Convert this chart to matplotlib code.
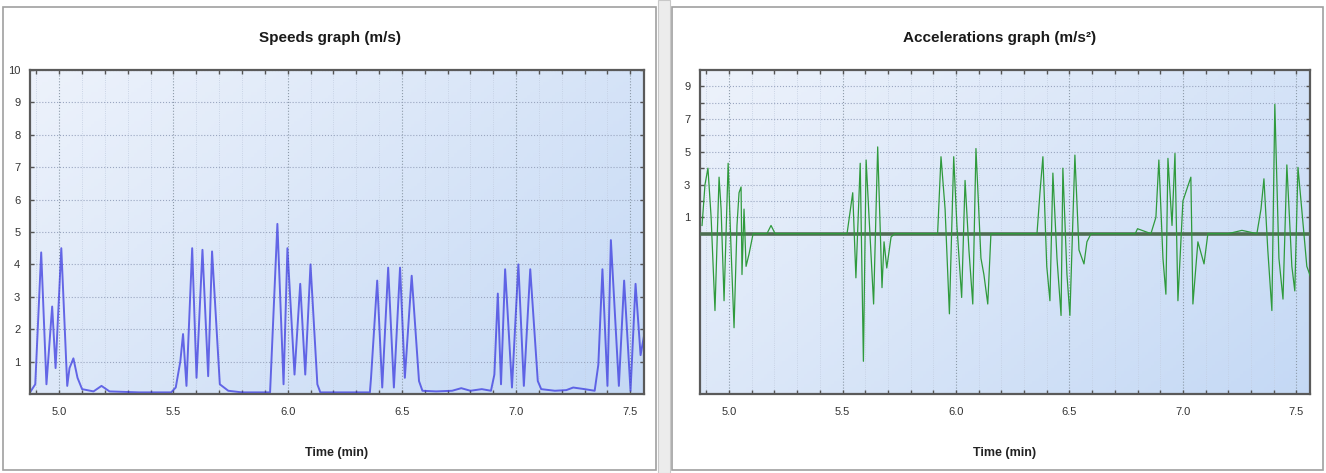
import numpy as np
import matplotlib
matplotlib.use('Agg')
import matplotlib.pyplot as plt
from matplotlib.patches import Rectangle
from matplotlib.ticker import MultipleLocator, FixedLocator, FuncFormatter

# velocidad (m/s), vertices
speed_t = [4.872, 4.895, 4.921, 4.944, 4.969, 4.984, 5.009, 5.035, 5.045, 5.062,
           5.08, 5.10, 5.15, 5.185, 5.22, 5.35, 5.49,
           5.51, 5.53, 5.542, 5.557, 5.582, 5.601, 5.627, 5.652, 5.669, 5.703,
           5.74, 5.80, 5.923,
           5.955, 5.982, 5.999, 6.03, 6.055, 6.077, 6.10, 6.13, 6.143,
           6.25, 6.36,
           6.365, 6.392, 6.414, 6.44, 6.465, 6.492, 6.513, 6.543, 6.575, 6.59,
           6.65, 6.72, 6.76, 6.80, 6.85, 6.89,
           6.905, 6.92, 6.934, 6.952, 6.982, 7.01, 7.034, 7.062, 7.095, 7.11,
           7.17, 7.22, 7.25, 7.30, 7.344,
           7.36, 7.378, 7.40, 7.415, 7.45, 7.473, 7.501, 7.523, 7.545, 7.564]
speed_v = [0.05, 0.3, 4.37, 0.3, 2.7, 0.8, 4.5, 0.25, 0.8, 1.1,
           0.5, 0.15, 0.08, 0.25, 0.08, 0.05, 0.05,
           0.2, 1.0, 1.85, 0.25, 4.5, 0.5, 4.45, 0.55, 4.4, 0.3,
           0.1, 0.05, 0.05,
           5.25, 0.3, 4.5, 0.6, 3.4, 0.6, 4.0, 0.3, 0.05,
           0.05, 0.05,
           0.5, 3.5, 0.2, 3.9, 0.2, 3.9, 0.5, 3.65, 0.4, 0.1,
           0.08, 0.1, 0.18, 0.1, 0.15, 0.1,
           0.6, 3.1, 0.3, 3.85, 0.2, 4.0, 0.25, 3.85, 0.4, 0.15,
           0.1, 0.12, 0.2, 0.15, 0.1,
           0.9, 3.85, 0.25, 4.75, 0.25, 3.5, 0.1, 3.4, 1.2, 1.95]

# aceleracion (m/s2), vertices
acc_t = [4.881, 4.894, 4.907, 4.921, 4.938, 4.956, 4.965, 4.978, 4.996, 5.009,
         5.022, 5.035, 5.044, 5.053, 5.057, 5.066, 5.075, 5.088, 5.106,
         5.167, 5.185, 5.203, 5.40, 5.52,
         5.545, 5.559, 5.578, 5.592, 5.604, 5.617, 5.637, 5.655, 5.674, 5.683,
         5.695, 5.714, 5.731, 5.85, 5.919,
         5.934, 5.952, 5.971, 5.99, 6.004, 6.025, 6.04, 6.057, 6.074, 6.088,
         6.11, 6.123, 6.14, 6.154, 6.25, 6.357,
         6.37, 6.383, 6.40, 6.414, 6.427, 6.445, 6.463, 6.471, 6.489, 6.502,
         6.524, 6.542, 6.564, 6.577, 6.595, 6.70, 6.79, 6.80, 6.859,
         6.881, 6.894, 6.912, 6.925, 6.934, 6.952, 6.965, 6.978, 7.0, 7.035,
         7.044, 7.066, 7.093, 7.11, 7.20, 7.26, 7.326,
         7.344, 7.357, 7.374, 7.392, 7.405, 7.423, 7.441, 7.458, 7.48, 7.493,
         7.507, 7.53, 7.546, 7.564]
acc_a = [0.5, 3.0, 4.0, 1.0, -4.7, 3.45, 1.5, -4.1, 4.3, -1.0,
         -5.75, 0.5, 2.5, 2.85, -2.5, 1.5, -2.0, -1.25, 0.0,
         0.0, 0.5, 0.0, 0.0, 0.0,
         2.5, -2.7, 4.3, -7.8, 4.5, 1.0, -4.3, 5.3, -3.3, -0.5,
         -2.1, -0.2, 0.0, 0.0, 0.0,
         4.7, 1.5, -4.9, 4.7, 0.5, -3.9, 3.25, -1.0, -4.3, 5.2,
         -1.5, -2.5, -4.3, 0.0, 0.0, 0.0,
         2.5, 4.7, -2.0, -4.1, 3.7, -1.5, -5.0, 4.0, -2.5, -5.0,
         4.8, -1.0, -1.85, -0.5, 0.0, 0.0, 0.0, 0.3, 0.0,
         1.0, 4.5, -1.5, -3.7, 4.6, 0.5, 4.9, -4.1, 2.0, 3.45,
         -4.3, -0.5, -1.85, 0.0, 0.0, 0.2, 0.0,
         1.5, 3.35, -1.0, -4.7, 7.9, -1.5, -4.0, 4.2, -2.0, -3.5,
         4.05, 0.5, -2.0, -2.7]

x_ticks = [5.0, 5.5, 6.0, 6.5, 7.0, 7.5]
speed_yticks = [1, 2, 3, 4, 5, 6, 7, 8, 9, 10]
acc_yticks = [1, 3, 5, 7, 9]
acc_yminor = [2, 4, 6, 8]

W, H = 1326, 473
fig = plt.figure(figsize=(W / 100, H / 100), dpi=100)
fig.patch.set_facecolor('white')
fuente = ['Liberation Sans', 'DejaVu Sans']


def caja(x0, y0, x1, y1, **kw):
    # rectangulo en pixeles (y hacia abajo)
    r = Rectangle((x0 / W, 1 - y1 / H), (x1 - x0) / W, (y1 - y0) / H,
                  transform=fig.transFigure, zorder=-5, **kw)
    fig.add_artist(r)


def ejes(x0, y0, x1, y1):
    pos = [x0 / W, 1 - y1 / H, (x1 - x0) / W, (y1 - y0) / H]
    fondo = fig.add_axes(pos, zorder=0)
    gx, gy = np.meshgrid(np.linspace(0, 1, 200), np.linspace(0, 1, 100))
    g = 0.6 * gx + 0.4 * gy
    c0 = np.array([0.93, 0.95, 0.985])
    c1 = np.array([0.77, 0.85, 0.96])
    img = c0 + (c1 - c0) * g[..., None]
    fondo.imshow(img, aspect='auto', extent=[0, 1, 0, 1], origin='upper')
    fondo.axis('off')
    ax = fig.add_axes(pos, zorder=1)
    ax.patch.set_alpha(0)
    ax.set_xlim(4.872, 7.56)
    ax.xaxis.set_major_locator(FixedLocator(x_ticks))
    ax.xaxis.set_minor_locator(MultipleLocator(0.1))
    ax.xaxis.set_major_formatter(FuncFormatter(lambda v, p: f'{v:.1f}'))
    ax.tick_params(which='both', direction='in', top=True, right=True,
                   length=3, width=1, color='#555555', labelsize=8,
                   labelcolor='#333333')
    ax.tick_params(axis='x', pad=9)
    ax.tick_params(axis='y', pad=7)
    for s in ax.spines.values():
        s.set_color('#5a5a5a')
        s.set_linewidth(1.6)
    ax.grid(which='major', axis='x', linestyle=':', color='#8c9aa8', lw=0.8)
    ax.grid(which='minor', axis='x', linestyle=':', color='#c2cde0', lw=0.6)
    ax.set_xlabel('Time (min)', fontsize=9, fontweight='bold', family=fuente,
                  labelpad=22, color='#222222')
    return ax


# marcos de los dos paneles y separador
caja(3, 7, 656, 470, facecolor='white', edgecolor='#a0a0a0', lw=1.2)
caja(672, 7, 1323, 470, facecolor='white', edgecolor='#a0a0a0', lw=1.2)
caja(658, 0, 670, 473, facecolor='#ececec', edgecolor='#c8c8c8', lw=0.8)

# velocidades
ax1 = ejes(30, 70, 644, 394)
ax1.plot(speed_t, speed_v, color='#3a3ae0', lw=1.4, alpha=0.75,
         solid_joinstyle='round')
ax1.set_ylim(0, 10)
ax1.yaxis.set_major_locator(FixedLocator(speed_yticks))
ax1.grid(which='major', axis='y', linestyle=':', color='#9aa6c0', lw=0.8)
for lab in ax1.get_xticklabels() + ax1.get_yticklabels():
    lab.set_family(fuente)
fig.text(330 / W, 1 - 38 / H, 'Speeds graph (m/s)', ha='center', va='center',
         fontsize=11, fontweight='bold', family=fuente, color='#1a1a1a')

# aceleraciones
ax2 = ejes(700, 70, 1310, 394)
ax2.axhline(0, color='#4e6e52', lw=2.6, zorder=3)
ax2.plot(acc_t, acc_a, color='#2f9a3c', lw=0.9, zorder=4)
ax2.set_ylim(-9.8, 10)
ax2.yaxis.set_major_locator(FixedLocator(acc_yticks))
ax2.yaxis.set_minor_locator(FixedLocator(acc_yminor))
ax2.grid(which='both', axis='y', linestyle=':', color='#9aa6c0', lw=0.8)
for lab in ax2.get_xticklabels() + ax2.get_yticklabels():
    lab.set_family(fuente)
fig.text(1000 / W, 1 - 38 / H, 'Accelerations graph (m/s²)', ha='center',
         va='center', fontsize=11, fontweight='bold', family=fuente,
         color='#1a1a1a')

fig.savefig('out.png', dpi=100)
